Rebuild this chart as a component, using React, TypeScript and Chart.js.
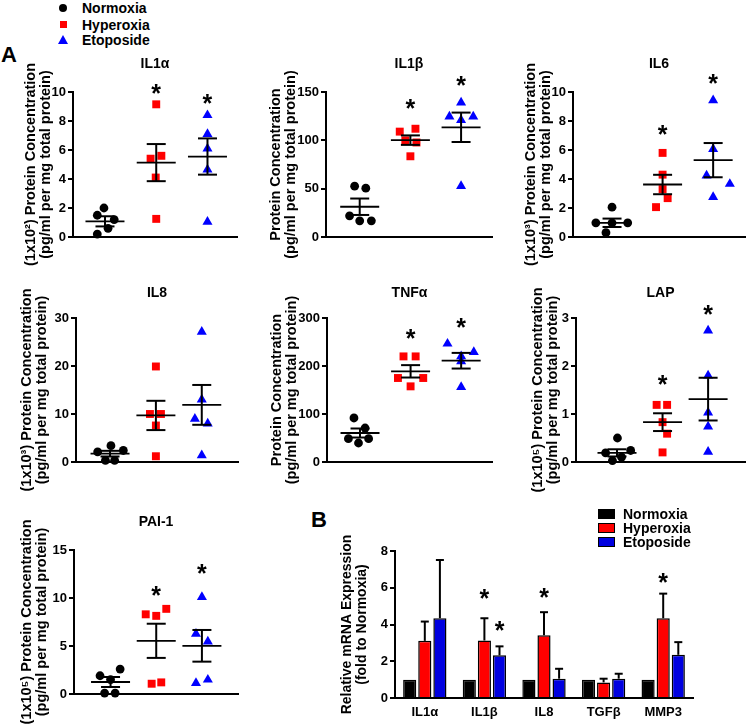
import React, { useEffect, useRef } from 'react';
import { Chart, registerables } from 'chart.js';

Chart.register(...registerables);

const FONT = '"Liberation Sans", Arial, Helvetica, sans-serif';

// ---------- shared series info ----------
const groupNames = ['Normoxia', 'Hyperoxia', 'Etoposide'];
const pointColors = ['#000000', '#ff0000', '#0000ff'];
const barColors = ['#000000', '#ff0000', '#0000e0'];
const pointShapes = ['circle', 'rect', 'triangle'];
const pointRadii = [4.4, 5.6, 5.8];

// ---------- IL1α ----------
const il1aValues = [[2.0, 1.5, 1.2, 0.6, 0.2], [9.15, 5.4, 5.6, 4.1, 1.25], [8.4, 7.1, 6.1, 4.65, 1.05]];
const il1aJitter = [[-0.02, -0.15, 0.18, 0.06, -0.15], [0, -0.11, 0.1, -0.01, 0], [0, 0, 0, 0, 0]];
const il1aMean = [1.08, 5.13, 5.55];
const il1aSem = [0.35, 1.28, 1.25];
const il1aStars = [null, 10.3, 9.6];

// ---------- IL1β ----------
const il1bValues = [[52.6, 50.5, 21.9, 16.7, 16.7], [109, 112, 100, 97.8, 83.5], [124.6, 139, 124.6, 121, 52.6]];
const il1bJitter = [[-0.1, 0.12, -0.2, 0, 0.23], [-0.21, 0.1, -0.1, 0.12, 0], [-0.23, 0, 0.24, 0, 0]];
const il1bMean = [31.3, 100.2, 113.5];
const il1bSem = [8.5, 4.9, 15.2];
const il1bStars = [null, 139, 162];

// ---------- IL6 ----------
const il6Values = [[2.06, 0.98, 0.98, 0.98, 0.3], [5.8, 4.3, 3.3, 2.68, 2.06], [9.43, 6.06, 4.23, 3.66, 2.75]];
const il6Jitter = [[0, -0.32, 0, 0.31, -0.12], [0, 0, 0, 0.1, -0.13], [0, 0, -0.13, 0.33, 0]];
const il6Mean = [0.98, 3.62, 5.3];
const il6Sem = [0.29, 0.67, 1.18];
const il6Stars = [null, 7.48, 10.94];

// ---------- IL8 ----------
const il8Values = [[3.4, 2.1, 2.4, 0.35, 0.35], [19.9, 10, 10, 7.6, 1.2], [27.1, 13, 9, 8, 1.4]];
const il8Jitter = [[0.02, -0.27, 0.29, -0.1, 0.1], [0, -0.13, 0.11, 0, 0], [0, 0, -0.15, 0.13, 0]];
const il8Mean = [1.74, 9.7, 11.9];
const il8Sem = [0.59, 3.05, 4.15];
const il8Stars = [null, null, null];

// ---------- TNFα ----------
const tnfValues = [[91.7, 70.8, 48.6, 48.6, 39.6], [220, 220, 175, 175, 157.6], [246.5, 229, 220, 209.7, 156]];
const tnfJitter = [[-0.12, 0.1, -0.23, 0.17, -0.03], [-0.14, 0.1, -0.25, 0.25, 0], [-0.27, 0.25, 0, 0, 0]];
const tnfMean = [60.4, 188.9, 211];
const tnfSem = [9.4, 12.9, 16.3];
const tnfStars = [null, 268.8, 291];

// ---------- LAP ----------
const lapValues = [[0.5, 0.19, 0.24, 0.03, 0.1], [1.19, 1.19, 0.83, 0.59, 0.2], [2.74, 1.8, 1.03, 0.74, 0.21]];
const lapJitter = [[0.01, -0.25, 0.3, -0.1, 0.1], [-0.13, 0.1, 0, 0.1, 0], [0, 0, 0, 0, 0]];
const lapMean = [0.19, 0.83, 1.31];
const lapSem = [0.075, 0.185, 0.445];
const lapStars = [null, 1.72, 3.19];

// ---------- PAI-1 ----------
const paiValues = [[1.9, 2.6, 1.5, 0.1, 0.1], [8.3, 8.14, 8.87, 1.07, 1.21], [10.1, 6.27, 5.47, 1.14, 1.49]];
const paiJitter = [[-0.23, 0.21, 0, -0.13, 0.1], [-0.23, 0, 0.22, -0.1, 0.11], [0, -0.13, 0.13, -0.13, 0.13]];
const paiMean = [1.25, 5.54, 5.02];
const paiSem = [0.52, 1.78, 1.65];
const paiStars = [null, 10.84, 13.1];

// ---------- Panel B (mRNA) ----------
const mrnaGenes = ['IL1α', 'IL1β', 'IL8', 'TGFβ', 'MMP3'];
const mrnaNormoxia = [1, 1, 1, 1, 1];
const mrnaHyperoxia = [3.11, 3.13, 3.42, 0.85, 4.34];
const mrnaEtoposide = [4.34, 2.32, 1.05, 1.05, 2.35];
const mrnaHyperoxiaErr = [1.05, 1.21, 1.25, 0.2, 1.34];
const mrnaEtoposideErr = [3.17, 0.49, 0.54, 0.27, 0.69];
const mrnaHyperoxiaStars = [null, 5.7, 5.76, null, 6.6];
const mrnaEtoposideStars = [null, 3.98, null, null, null];

// ---------- layout constants ----------
const AXIS_W = 62;
const PAD_TOP = 50;
const PAD_BOTTOM = 40;
const PAD_RIGHT = 6;
const MEAN_HALF = 19.5;
const CAP_HALF = 9.5;
const STAR_SIZE = 25;
const TICK_FONT = { family: FONT, size: 13, weight: 'bold' as const };
const YTITLE_SIZE = 14.5;

const concTitle = (prefix: string) => [prefix + 'Protein Concentration', '(pg/ml per mg total protein)'];

const scatterPanels = [
  { title: 'IL1α', yTitle: concTitle('(1x10²) '), values: il1aValues, jitter: il1aJitter, mean: il1aMean, sem: il1aSem, stars: il1aStars, yMax: 10, yStep: 2,
    layout: { axisX: 73, plotRight: 237, plotTop: 92, plotBottom: 237, xMin: 0.376, xMax: 3.576, titleOff: 42, titleGap: 28 } },
  { title: 'IL1β', yTitle: concTitle(''), values: il1bValues, jitter: il1bJitter, mean: il1bMean, sem: il1bSem, stars: il1bStars, yMax: 150, yStep: 50,
    layout: { axisX: 326, plotRight: 492, plotTop: 92, plotBottom: 237, xMin: 0.335, xMax: 3.61, titleOff: 50, titleGap: 28 } },
  { title: 'IL6', yTitle: concTitle('(1x10³) '), values: il6Values, jitter: il6Jitter, mean: il6Mean, sem: il6Sem, stars: il6Stars, yMax: 10, yStep: 2,
    layout: { axisX: 573, plotRight: 745, plotTop: 92, plotBottom: 237, xMin: 0.228, xMax: 3.63, titleOff: 42, titleGap: 28 } },
  { title: 'IL8', yTitle: concTitle('(1x10³) '), values: il8Values, jitter: il8Jitter, mean: il8Mean, sem: il8Sem, stars: il8Stars, yMax: 30, yStep: 10,
    layout: { axisX: 76, plotRight: 238, plotTop: 318, plotBottom: 462, xMin: 0.258, xMax: 3.79, titleOff: 49, titleGap: 25 } },
  { title: 'TNFα', yTitle: concTitle(''), values: tnfValues, jitter: tnfJitter, mean: tnfMean, sem: tnfSem, stars: tnfStars, yMax: 300, yStep: 100,
    layout: { axisX: 327, plotRight: 492, plotTop: 318, plotBottom: 462, xMin: 0.347, xMax: 3.61, titleOff: 50, titleGap: 25 } },
  { title: 'LAP', yTitle: concTitle('(1x10⁵) '), values: lapValues, jitter: lapJitter, mean: lapMean, sem: lapSem, stars: lapStars, yMax: 3, yStep: 1,
    layout: { axisX: 576, plotRight: 745, plotTop: 318, plotBottom: 462, xMin: 0.1, xMax: 3.81, titleOff: 38, titleGap: 25 } },
  { title: 'PAI-1', yTitle: concTitle('(1x10⁵) '), values: paiValues, jitter: paiJitter, mean: paiMean, sem: paiSem, stars: paiStars, yMax: 15, yStep: 5,
    layout: { axisX: 74, plotRight: 238, plotTop: 550, plotBottom: 694, xMin: 0.2, xMax: 3.79, titleOff: 47, titleGap: 28 } },
];

const barLayout = { axisX: 395, plotRight: 693, plotTop: 551, plotBottom: 698, titleOff: 48, xAxisH: 26 };

function seg(ctx: CanvasRenderingContext2D, x1: number, y1: number, x2: number, y2: number) {
  ctx.beginPath();
  ctx.moveTo(x1, y1);
  ctx.lineTo(x2, y2);
  ctx.stroke();
}

function yAxisOptions(max: number, step: number, title: string[], titleOff: number, titleSize: number) {
  return {
    type: 'linear' as const,
    min: 0,
    max,
    ticks: { stepSize: step, color: '#000', font: TICK_FONT, padding: 2 },
    grid: { display: true, drawOnChartArea: false, drawTicks: true, tickLength: 5, color: '#000', lineWidth: 2 },
    border: { display: true, color: '#000', width: 2 },
    title: {
      display: true,
      text: title,
      color: '#000',
      font: { family: FONT, size: titleSize, weight: 'bold' as const, lineHeight: 1.05 },
      padding: { top: AXIS_W - titleOff - (titleSize * 1.05) / 2, bottom: 0 },
    },
    afterFit: (s: any) => { s.width = AXIS_W; },
  };
}

function ScatterPanel({ p }: { p: any }) {
  const ref = useRef<HTMLCanvasElement>(null);
  const L = p.layout;
  const left = L.axisX - AXIS_W;
  const top = L.plotTop - PAD_TOP;
  const width = L.plotRight - L.axisX + AXIS_W + PAD_RIGHT;
  const height = L.plotBottom - L.plotTop + PAD_TOP + PAD_BOTTOM;

  useEffect(() => {
    const decor = {
      id: 'scatterDecor',
      afterDatasetsDraw(chart: any) {
        const { ctx, chartArea } = chart;
        const xs = chart.scales.x;
        const ys = chart.scales.y;
        ctx.save();
        ctx.strokeStyle = '#000';
        p.mean.forEach((m: number, g: number) => {
          const cx = xs.getPixelForValue(g + 1);
          const my = ys.getPixelForValue(m);
          const hi = ys.getPixelForValue(m + p.sem[g]);
          const lo = ys.getPixelForValue(m - p.sem[g]);
          ctx.lineWidth = 1.8;
          seg(ctx, cx - MEAN_HALF, my, cx + MEAN_HALF, my);
          ctx.lineWidth = 2;
          seg(ctx, cx, hi, cx, lo);
          seg(ctx, cx - CAP_HALF, hi, cx + CAP_HALF, hi);
          seg(ctx, cx - CAP_HALF, lo, cx + CAP_HALF, lo);
        });
        ctx.fillStyle = '#000';
        ctx.textAlign = 'center';
        ctx.textBaseline = 'alphabetic';
        ctx.font = `bold ${STAR_SIZE}px ${FONT}`;
        p.stars.forEach((s: number | null, g: number) => {
          if (s == null) return;
          ctx.fillText('*', xs.getPixelForValue(g + 1), ys.getPixelForValue(s) + STAR_SIZE * 0.56);
        });
        ctx.font = `bold 14px ${FONT}`;
        ctx.textBaseline = 'middle';
        ctx.fillText(p.title, (chartArea.left + chartArea.right) / 2, chartArea.top - L.titleGap);
        ctx.restore();
      },
    };

    const chart = new Chart(ref.current as HTMLCanvasElement, {
      type: 'scatter',
      data: {
        datasets: p.values.map((vals: number[], g: number) => ({
          label: groupNames[g],
          data: vals.map((v: number, i: number) => ({ x: g + 1 + p.jitter[g][i], y: v })),
          pointStyle: pointShapes[g],
          pointRadius: pointRadii[g],
          pointBackgroundColor: pointColors[g],
          pointBorderColor: pointColors[g],
          pointBorderWidth: 0,
          clip: false,
        })),
      },
      options: {
        responsive: false,
        animation: false,
        devicePixelRatio: 1,
        layout: { padding: { left: 0, top: PAD_TOP, right: PAD_RIGHT, bottom: PAD_BOTTOM } },
        plugins: { legend: { display: false }, tooltip: { enabled: false } },
        scales: {
          x: {
            type: 'linear',
            min: L.xMin,
            max: L.xMax,
            ticks: { display: false },
            grid: { display: false, drawTicks: false },
            border: { display: true, color: '#000', width: 2 },
            afterFit: (s: any) => { s.height = 0; },
          },
          y: yAxisOptions(p.yMax, p.yStep, p.yTitle, L.titleOff, YTITLE_SIZE) as any,
        },
      } as any,
      plugins: [decor],
    });
    return () => chart.destroy();
  }, []);

  return <canvas ref={ref} width={width} height={height} style={{ position: 'absolute', left, top, width, height }} />;
}

function BarPanel() {
  const ref = useRef<HTMLCanvasElement>(null);
  const L = barLayout;
  const left = L.axisX - AXIS_W;
  const top = L.plotTop - PAD_TOP;
  const width = L.plotRight - L.axisX + AXIS_W + PAD_RIGHT;
  const height = 726 - top;
  const padBottom = height - PAD_TOP - (L.plotBottom - L.plotTop) - L.xAxisH;

  useEffect(() => {
    const errs = [null, mrnaHyperoxiaErr, mrnaEtoposideErr];
    const stars = [null, mrnaHyperoxiaStars, mrnaEtoposideStars];
    const decor = {
      id: 'barDecor',
      afterDatasetsDraw(chart: any) {
        const { ctx } = chart;
        const ys = chart.scales.y;
        ctx.save();
        ctx.strokeStyle = '#000';
        ctx.lineWidth = 2;
        for (let d = 1; d < 3; d++) {
          const meta = chart.getDatasetMeta(d);
          const vals = chart.data.datasets[d].data as number[];
          meta.data.forEach((bar: any, i: number) => {
            const e = (errs[d] as number[])[i];
            const y0 = ys.getPixelForValue(vals[i]);
            const y1 = ys.getPixelForValue(vals[i] + e);
            seg(ctx, bar.x, y0, bar.x, y1);
            seg(ctx, bar.x - 4, y1, bar.x + 4, y1);
          });
        }
        ctx.fillStyle = '#000';
        ctx.textAlign = 'center';
        ctx.textBaseline = 'alphabetic';
        ctx.font = `bold ${STAR_SIZE}px ${FONT}`;
        for (let d = 1; d < 3; d++) {
          const meta = chart.getDatasetMeta(d);
          (stars[d] as (number | null)[]).forEach((s, i) => {
            if (s == null) return;
            ctx.fillText('*', meta.data[i].x, ys.getPixelForValue(s) + STAR_SIZE * 0.56);
          });
        }
        ctx.restore();
      },
    };

    const chart = new Chart(ref.current as HTMLCanvasElement, {
      type: 'bar',
      data: {
        labels: mrnaGenes,
        datasets: [mrnaNormoxia, mrnaHyperoxia, mrnaEtoposide].map((vals, g) => ({
          label: groupNames[g],
          data: vals,
          backgroundColor: barColors[g],
          borderColor: '#000',
          borderWidth: 1.5,
          categoryPercentage: 0.76,
          barPercentage: 0.87,
        })),
      },
      options: {
        responsive: false,
        animation: false,
        devicePixelRatio: 1,
        layout: { padding: { left: 0, top: PAD_TOP, right: PAD_RIGHT, bottom: padBottom } },
        plugins: { legend: { display: false }, tooltip: { enabled: false } },
        scales: {
          x: {
            grid: { display: false, drawTicks: false },
            border: { display: true, color: '#000', width: 2 },
            ticks: { color: '#000', font: TICK_FONT, padding: 7, maxRotation: 0, autoSkip: false },
            afterFit: (s: any) => { s.height = L.xAxisH; },
          },
          y: yAxisOptions(8, 2, ['Relative mRNA Expression', '(fold to Normoxia)'], L.titleOff, 14) as any,
        },
      } as any,
      plugins: [decor],
    });
    return () => chart.destroy();
  }, []);

  return <canvas ref={ref} width={width} height={height} style={{ position: 'absolute', left, top, width, height }} />;
}

const legendText: React.CSSProperties = {
  position: 'absolute',
  fontFamily: FONT,
  fontWeight: 'bold',
  fontSize: 14,
  lineHeight: '16px',
  height: 16,
  whiteSpace: 'nowrap',
  color: '#000',
};

export default function App() {
  const legendARows = [7.5, 24.5, 39.5];
  const legendBRows = [513.5, 527.5, 542];
  return (
    <div style={{ position: 'absolute', left: 0, top: 0, width: 750, height: 726, background: '#fff', overflow: 'hidden' }}>
      {/* Legend A */}
      <div style={{ position: 'absolute', left: 59, top: legendARows[0] - 4, width: 8, height: 8, borderRadius: '50%', background: pointColors[0] }} />
      <div style={{ position: 'absolute', left: 59.5, top: legendARows[1] - 3.5, width: 7, height: 7, background: pointColors[1] }} />
      <div style={{ position: 'absolute', left: 58, top: legendARows[2] - 4.5, width: 0, height: 0, borderLeft: '5px solid transparent', borderRight: '5px solid transparent', borderBottom: `9px solid ${pointColors[2]}` }} />
      {groupNames.map((n, i) => (
        <div key={n} style={{ ...legendText, left: 82, top: legendARows[i] - 8 }}>{n}</div>
      ))}
      <div style={{ position: 'absolute', left: 1, top: 44, fontFamily: FONT, fontWeight: 'bold', fontSize: 22, lineHeight: '22px' }}>A</div>
      <div style={{ position: 'absolute', left: 311, top: 509, fontFamily: FONT, fontWeight: 'bold', fontSize: 22, lineHeight: '22px' }}>B</div>

      {scatterPanels.map((p) => <ScatterPanel key={p.title} p={p} />)}
      <BarPanel />

      {/* Legend B */}
      {groupNames.map((n, i) => (
        <React.Fragment key={n}>
          <div style={{ position: 'absolute', left: 598, top: legendBRows[i] - 5, width: 17, height: 10, boxSizing: 'border-box', border: '1.5px solid #000', background: barColors[i] }} />
          <div style={{ ...legendText, left: 623, top: legendBRows[i] - 8 }}>{n}</div>
        </React.Fragment>
      ))}
    </div>
  );
}
